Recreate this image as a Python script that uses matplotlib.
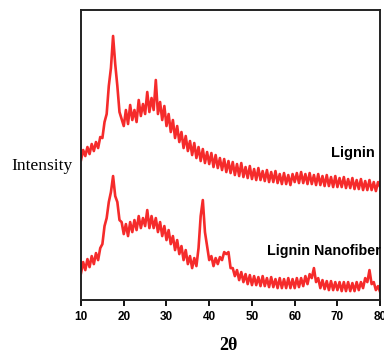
import matplotlib
matplotlib.use("Agg")
import matplotlib.pyplot as plt
import numpy as np

# 2-theta positions (every half degree)
two_theta = np.arange(10, 80.01, 0.5)

# Lignin (upper trace), arbitrary units
lignin = [140, 150, 144, 153, 146, 156, 149, 158, 152, 163,
          162, 178, 186, 214, 232, 264, 236, 214, 188, 181,
          174, 190, 176, 195, 180, 190, 178, 200, 184, 196,
          186, 208, 188, 202, 190, 220, 186, 198, 180, 194,
          174, 186, 168, 180, 162, 174, 158, 168, 152, 164,
          149, 159, 145, 157, 142, 153, 139, 151, 137, 148,
          136, 147, 133, 145, 132, 142, 130, 141, 128, 139,
          127, 138, 125, 136, 124, 137, 123, 133, 122, 134,
          121, 131, 120, 132, 120, 129, 119, 130, 118, 128,
          118, 129, 117, 126, 116, 127, 116, 125, 115, 126,
          118, 127, 117, 128, 117, 126, 116, 127, 116, 125,
          115, 126, 115, 124, 114, 125, 114, 123, 113, 124,
          113, 122, 113, 123, 112, 121, 112, 122, 111, 120,
          111, 121, 110, 119, 110, 120, 110, 118, 109, 118,
          113]

# Lignin nanofiber (lower trace)
nanofiber = [27, 38, 30, 41, 33, 44, 36, 47, 40, 52,
             56, 74, 82, 98, 108, 124, 104, 98, 80, 78,
             66, 76, 64, 78, 68, 80, 70, 84, 72, 82,
             74, 90, 72, 84, 72, 82, 68, 78, 64, 74,
             60, 70, 56, 64, 50, 60, 46, 54, 40, 50,
             36, 44, 32, 42, 34, 52, 84, 100, 68, 54,
             40, 44, 34, 42, 36, 43, 40, 48, 46, 48,
             32, 32, 24, 30, 20, 28, 18, 26, 16, 25,
             15, 24, 15, 23, 14, 24, 14, 22, 13, 23,
             13, 21, 12, 22, 12, 21, 12, 22, 12, 21,
             12, 22, 13, 22, 14, 24, 16, 26, 22, 32,
             18, 22, 12, 20, 11, 19, 10, 19, 10, 18,
             10, 18, 9, 18, 9, 18, 9, 17, 9, 18,
             10, 18, 12, 22, 18, 30, 16, 18, 10, 14,
             8]

xticks = [10, 20, 30, 40, 50, 60, 70, 80]

fig = plt.figure(figsize=(3.84, 3.56), dpi=100)
ax = fig.add_axes([0.211, 0.157, 0.779, 0.815])

red = '#f41414'
for y in (lignin, nanofiber):
    ax.plot(two_theta, y, color=red, lw=1.9, alpha=0.9)

ax.set_xlim(10, 80)
ax.set_ylim(0, 290)
ax.set_xticks(xticks)
ax.set_xticklabels([str(t) for t in xticks], fontfamily='Liberation Sans',
                   fontweight='bold', fontsize=8.5)
ax.set_yticks([])
ax.tick_params(axis='x', direction='out', length=4, width=1.3, pad=4)
for s in ax.spines.values():
    s.set_linewidth(1.4)
    s.set_color('#222222')

ax.text(78.8, 147, 'Lignin', ha='right', va='center', fontsize=10.5,
        fontweight='bold', fontfamily='Liberation Sans')
ax.text(80.2, 49, 'Lignin Nanofiber', ha='right', va='center', fontsize=10.3,
        fontweight='bold', fontfamily='Liberation Sans')

fig.text(0.108, 0.533, 'Intensity', ha='center', va='center', fontsize=12.5,
         fontfamily='Liberation Serif')
fig.text(0.595, 0.03, '2θ', ha='center', va='center', fontsize=13,
         fontweight='bold', fontfamily='Liberation Serif')

fig.savefig('out.png', dpi=100)
